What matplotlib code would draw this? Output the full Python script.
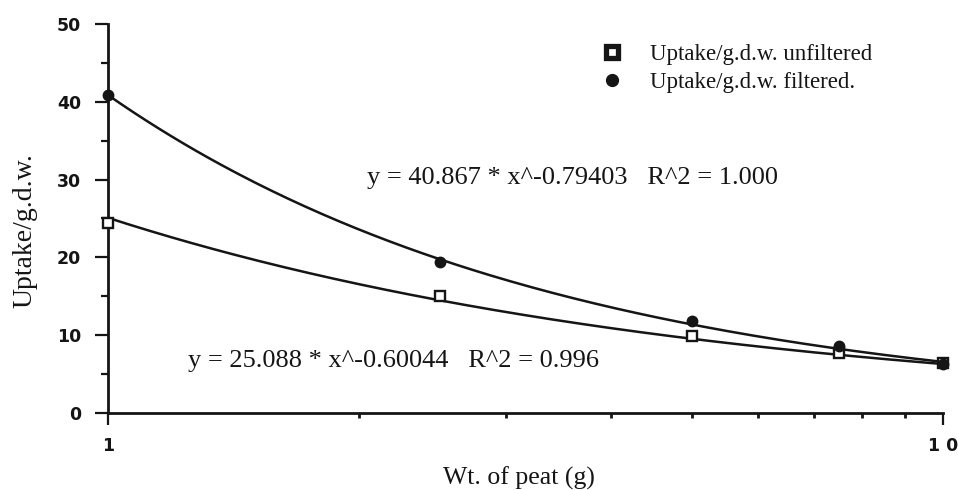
import numpy as np
import matplotlib
matplotlib.use("Agg")
import matplotlib.pyplot as plt
from matplotlib.lines import Line2D
from matplotlib.ticker import FixedLocator, NullFormatter

# ---- data ----
peat_weight = [1, 2.5, 5, 7.5, 10]
uptake_unfiltered = [24.4, 15.0, 9.9, 7.7, 6.4]
uptake_filtered = [40.9, 19.4, 11.8, 8.6, 6.3]

fit_coef_unfiltered = 25.088
fit_exp_unfiltered = -0.60044
fit_coef_filtered = 40.867
fit_exp_filtered = -0.79403

eq_unfiltered = "y = 25.088 * x^-0.60044   R^2 = 0.996"
eq_filtered = "y = 40.867 * x^-0.79403   R^2 = 1.000"
legend_labels = ["Uptake/g.d.w. unfiltered", "Uptake/g.d.w. filtered."]
y_ticks = [0, 10, 20, 30, 40, 50]
y_minor = [5, 15, 25, 35, 45]
x_ticks = [1, 10]
x_tick_labels = ["1", "1 0"]
x_minor = [2, 3, 4, 5, 6, 7, 8, 9]

W, H = 958, 490
fig = plt.figure(figsize=(W / 100, H / 100), dpi=100)
fig.patch.set_facecolor("white")
ax = fig.add_axes([108 / W, (H - 413) / H, (943 - 108) / W, (413 - 24) / H])

serif = ["Liberation Serif", "DejaVu Serif"]
tickfont = ["DejaVu Sans"]
ink = "#151515"

# fitted curves
xf = np.geomspace(peat_weight[0], peat_weight[-1], 200)
ax.plot(xf, fit_coef_filtered * xf ** fit_exp_filtered, color=ink, lw=1.8, zorder=2)
ax.plot(xf, fit_coef_unfiltered * xf ** fit_exp_unfiltered, color=ink, lw=1.8, zorder=2)

# data markers
ax.plot(peat_weight, uptake_unfiltered, linestyle="none", marker="s", ms=7.5,
        mfc="white", mec=ink, mew=1.7, zorder=3, clip_on=False)
ax.plot(peat_weight, uptake_filtered, linestyle="none", marker="o", ms=7.5,
        mfc=ink, mec=ink, zorder=4, clip_on=False)

ax.set_xscale("log")
ax.set_xlim(1, 10)
ax.set_ylim(0, 50)

ax.set_yticks(y_ticks)
ax.yaxis.set_minor_locator(FixedLocator(y_minor))
ax.set_xticks(x_ticks)
ax.set_xticklabels(x_tick_labels)
ax.xaxis.set_minor_locator(FixedLocator(x_minor))
ax.xaxis.set_minor_formatter(NullFormatter())

for s in ["top", "right"]:
    ax.spines[s].set_visible(False)
for s in ["left", "bottom"]:
    ax.spines[s].set_linewidth(2.0)
    ax.spines[s].set_color(ink)

ax.tick_params(axis="y", which="major", direction="out", length=9.4, width=1.6,
               pad=10, color=ink)
ax.tick_params(axis="y", which="minor", direction="out", length=5, width=1.6, color=ink)
ax.tick_params(axis="x", which="major", direction="out", length=8.6, width=1.6,
               pad=9, color=ink)
ax.tick_params(axis="x", which="minor", direction="out", length=3.6, width=2.0, color=ink)

for lab in ax.get_yticklabels() + ax.get_xticklabels():
    lab.set_fontfamily(tickfont)
    lab.set_fontweight("bold")
    lab.set_fontsize(12.5)
    lab.set_color(ink)

# axis labels
fig.text(519 / W, 1 - 478 / H, "Wt. of peat (g)", family=serif, fontsize=18.5,
         ha="center", va="center", color=ink)
fig.text(25 / W, 1 - 231 / H, "Uptake/g.d.w.", family=serif, fontsize=20,
         rotation=90, ha="center", va="center", color=ink)

# equations
fig.text(367 / W, 1 - 175 / H, eq_filtered, family=serif, fontsize=19,
         ha="left", va="center_baseline", color=ink)
fig.text(188 / W, 1 - 358 / H, eq_unfiltered, family=serif, fontsize=19,
         ha="left", va="center_baseline", color=ink)

# legend (manual)
fig.add_artist(Line2D([612 / W], [1 - 52 / H], transform=fig.transFigure,
                      marker="s", ms=8.5, mfc="white", mec=ink, mew=3.8, linestyle="none"))
fig.add_artist(Line2D([612 / W], [1 - 80 / H], transform=fig.transFigure,
                      marker="o", ms=8.5, mfc=ink, mec=ink, linestyle="none"))
fig.text(650 / W, 1 - 52 / H, legend_labels[0], family=serif, fontsize=16.5,
         ha="left", va="center_baseline", color=ink)
fig.text(650 / W, 1 - 80 / H, legend_labels[1], family=serif, fontsize=16.5,
         ha="left", va="center_baseline", color=ink)

fig.savefig("out.png", dpi=100, facecolor="white")
